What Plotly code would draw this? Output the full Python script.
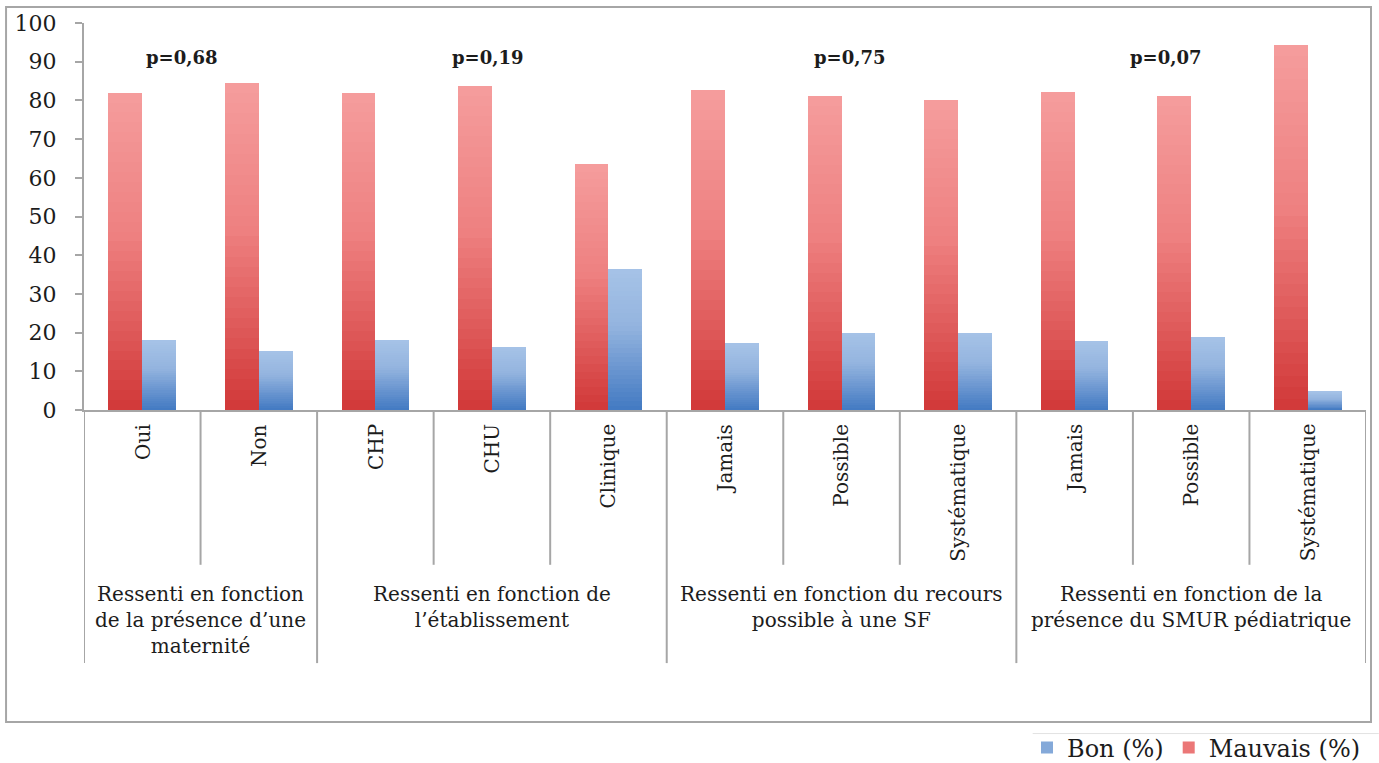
import plotly.graph_objects as go

# ---------------- data ----------------
categories = ["Oui", "Non", "CHP", "CHU", "Clinique", "Jamais", "Possible",
              "Systématique", "Jamais", "Possible", "Systématique"]
groups = [
    "Ressenti en fonction<br>de la présence d’une<br>maternité",
    "Ressenti en fonction de<br>l’établissement",
    "Ressenti en fonction du recours<br>possible à une SF",
    "Ressenti en fonction de la<br>présence du SMUR pédiatrique",
]
group_sizes = [2, 3, 3, 3]
mauvais = [82.0, 84.6, 82.0, 83.8, 63.6, 82.8, 81.2, 80.0, 82.2, 81.2, 94.4]
bon = [18.0, 15.2, 18.2, 16.2, 36.4, 17.2, 20.0, 20.0, 17.8, 18.8, 4.8]
p_labels = ["p=0,68", "p=0,19", "p=0,75", "p=0,07"]
p_x = [0.34, 2.97, 6.07, 8.78]
p_y = 91.2
y_ticks = list(range(0, 101, 10))

# ---------------- style ----------------
FONT = "DejaVu Serif"
GRAY = "#a6a6a6"
TXT = "#1c1c1c"
red_stops = [(0.0, (209, 56, 56)), (0.55, (238, 128, 128)), (1.0, (245, 157, 157))]
blue_stops = [(0.0, (66, 121, 194)), (0.6, (148, 180, 223)), (1.0, (166, 195, 231))]
N = 32
BW = 0.29


def interp(stops, f):
    for (f0, c0), (f1, c1) in zip(stops[:-1], stops[1:]):
        if f <= f1:
            t = (f - f0) / (f1 - f0) if f1 > f0 else 0
            c = [round(a + (b - a) * t) for a, b in zip(c0, c1)]
            return "rgb(%d,%d,%d)" % tuple(c)
    return "rgb(%d,%d,%d)" % stops[-1][1]


xs = list(range(len(categories)))
fig = go.Figure()


def add_gradient(values, stops, name, offset, rank):
    for k in range(N):
        frac = (N - k) / N
        col = interp(stops, (N - k - 0.5) / N)
        fig.add_trace(go.Bar(
            x=xs, y=[v * frac for v in values], width=BW, offset=offset,
            marker=dict(color=col, line=dict(width=0)),
            name=name, legendgroup=name, showlegend=(k == N // 2),
            legendrank=rank, hoverinfo="skip" if k else None,
        ))


add_gradient(mauvais, red_stops, "Mauvais (%)", -BW, 2)
add_gradient(bon, blue_stops, "Bon (%)", 0, 1)

shapes = []
ann = []
# dividers below x axis
bounds = [0]
for s in group_sizes:
    bounds.append(bounds[-1] + s)
for i in range(len(categories) + 1):
    is_group = i in bounds
    shapes.append(dict(type="line", xref="x", yref="paper", x0=i - 0.5, x1=i - 0.5,
                       y0=0, y1=-0.654 if is_group else -0.40,
                       line=dict(color=GRAY, width=2)))
# category labels (rotated)
for i, c in enumerate(categories):
    ann.append(dict(x=i, y=-0.030, xref="x", yref="paper", text=c, textangle=-90,
                    showarrow=False, xanchor="center", yanchor="top",
                    font=dict(family=FONT, size=20, color=TXT)))
# group labels
for g, (a, b) in zip(groups, zip(bounds[:-1], bounds[1:])):
    ann.append(dict(x=(a + b - 1) / 2, y=-0.44, xref="x", yref="paper", text=g,
                    showarrow=False, xanchor="center", yanchor="top",
                    font=dict(family=FONT, size=20, color=TXT)))
# p-values
for t, px in zip(p_labels, p_x):
    ann.append(dict(x=px, y=p_y, xref="x", yref="y", text="<b>%s</b>" % t,
                    showarrow=False, xanchor="center", yanchor="middle",
                    font=dict(family=FONT, size=18, color=TXT)))
# outer chart frame
shapes.append(dict(type="rect", xref="paper", yref="paper", x0=-0.0608, x1=1.0039,
                   y0=-0.806, y1=1.0413, line=dict(color=GRAY, width=2)))
# faint line above legend
shapes.append(dict(type="line", xref="paper", yref="paper", x0=0.74, x1=1.01,
                   y0=-0.836, y1=-0.836, line=dict(color="#e3e3e3", width=1)))

fig.update_layout(
    width=1379, height=763,
    margin=dict(l=84, r=13, t=23, b=353, autoexpand=False),
    plot_bgcolor="white", paper_bgcolor="white",
    barmode="overlay", bargap=0,
    showlegend=True,
    legend=dict(orientation="h", x=1.0, xanchor="right", y=-0.873, yanchor="middle",
                font=dict(family=FONT, size=24, color=TXT), traceorder="normal",
                itemwidth=30, bgcolor="rgba(0,0,0,0)"),
    shapes=shapes, annotations=ann,
    xaxis=dict(range=[-0.5, len(categories) - 0.5], showticklabels=False, ticks="",
               showgrid=False, zeroline=False, showline=True, linecolor=GRAY,
               linewidth=2, fixedrange=True, automargin=False),
    yaxis=dict(range=[0, 100], tickvals=y_ticks, showgrid=False, zeroline=False,
               showline=True, linecolor=GRAY, linewidth=2, ticks="outside",
               ticklen=7, tickwidth=2, tickcolor=GRAY, ticklabelstandoff=14,
               automargin=False,
               tickfont=dict(family=FONT, size=22, color=TXT)),
)

fig.write_html("out.html",
               config={"displayModeBar": False},
               post_script="document.body.style.margin='0';"
                           "document.body.style.overflow='hidden';")
